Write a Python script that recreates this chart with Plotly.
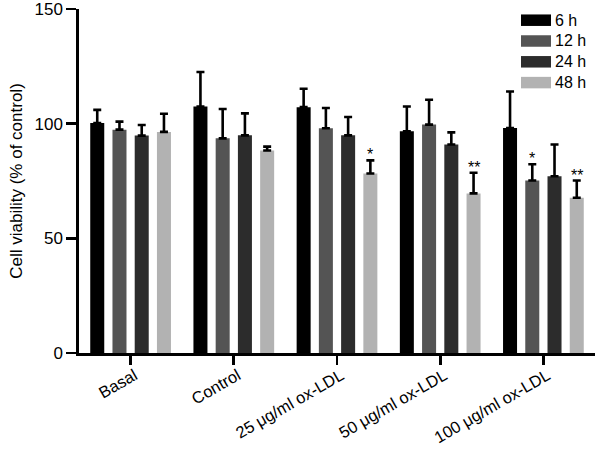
import plotly.graph_objects as go

categories = ["Basal", "Control", "25 μg/ml ox-LDL", "50 μg/ml ox-LDL", "100 μg/ml ox-LDL"]
series_names = ["6 h", "12 h", "24 h", "48 h"]
colors = ["#000000", "#545454", "#2c2c2c", "#b2b2b2"]

v_6h = [100.3, 107.5, 107.2, 96.7, 98.1]
v_12h = [97.4, 93.6, 98.0, 99.6, 75.2]
v_24h = [94.8, 94.9, 94.9, 90.9, 77.1]
v_48h = [96.4, 88.3, 78.3, 69.6, 67.7]

e_6h = [5.7, 15.0, 8.0, 10.8, 15.9]
e_12h = [3.5, 12.8, 8.8, 10.8, 7.1]
e_24h = [4.6, 9.6, 8.0, 5.3, 13.8]
e_48h = [7.9, 1.7, 5.7, 9.0, 7.5]

# significance marks: (category index, series index, label)
sig_marks = [(2, 3, "*"), (3, 3, "**"), (4, 1, "*"), (4, 3, "**")]

values = [v_6h, v_12h, v_24h, v_48h]
errors = [e_6h, e_12h, e_24h, e_48h]

FONT = "Liberation Sans, Arial, Helvetica, sans-serif"
W, H = 602, 453
ML, MR, MT, MB = 79, 7, 9, 100
bargap = 0.138
bargroupgap = 0.37

fig = go.Figure()
xs = list(range(len(categories)))
for name, col, vals, errs in zip(series_names, colors, values, errors):
    fig.add_trace(go.Bar(
        x=xs, y=vals, name=name, marker=dict(color=col, line=dict(width=0)),
        error_y=dict(type="data", array=errs, arrayminus=[0] * len(errs), symmetric=False,
                     color="#000000", thickness=2.6, width=4),
        showlegend=False, hoverinfo="skip",
    ))

# significance annotations
n = len(series_names)
slot = (1 - bargap) / n
for ci, si, lab in sig_marks:
    xpos = ci + (si - (n - 1) / 2) * slot
    fig.add_annotation(x=xpos, y=values[si][ci] + errors[si][ci], text=lab, showarrow=False,
                       xref="x", yref="y", yanchor="bottom", yshift=-5,
                       font=dict(family=FONT, size=16, color="#000000"))

# manual legend
pw = W - ML - MR
ph = H - MT - MB
def px2x(px):
    return (px - ML) / pw
def py2y(py):
    return 1 - (py - MT) / ph
leg_x0, leg_w, leg_h, leg_top, leg_step = 521, 30, 11.5, 20.2, 20.8
for i, (name, col) in enumerate(zip(series_names, colors)):
    cy = leg_top + i * leg_step
    fig.add_shape(type="rect", xref="paper", yref="paper",
                  x0=px2x(leg_x0), x1=px2x(leg_x0 + leg_w),
                  y0=py2y(cy - leg_h / 2), y1=py2y(cy + leg_h / 2),
                  fillcolor=col, line=dict(width=0))
    fig.add_annotation(x=px2x(leg_x0 + leg_w + 2), y=py2y(cy), xref="paper", yref="paper",
                       text=name, showarrow=False, xanchor="left", yanchor="middle",
                       font=dict(family=FONT, size=16, color="#000000"))

fig.update_layout(
    width=W, height=H,
    margin=dict(l=ML, r=MR, t=MT, b=MB, autoexpand=False),
    paper_bgcolor="white", plot_bgcolor="white",
    barmode="group", bargap=bargap, bargroupgap=bargroupgap,
    font=dict(family=FONT, size=17, color="#000000"),
    showlegend=False, hovermode=False,
)
fig.update_xaxes(
    range=[-0.5, 4.5], tickvals=xs, ticktext=categories, tickangle=-30,
    showline=True, linecolor="#000000", linewidth=2.7,
    ticks="outside", ticklen=9, tickwidth=2.7, tickcolor="#000000",
    showgrid=False, zeroline=False, tickfont=dict(size=16.5), ticklabeloverflow="allow",
    ticklabelstandoff=-5, ticklabelshift=4,
    automargin=False,
)
fig.update_yaxes(
    range=[0, 150], tickvals=[0, 50, 100, 150],
    showline=True, linecolor="#000000", linewidth=2.7,
    ticks="outside", ticklen=10, tickwidth=2.7, tickcolor="#000000",
    showgrid=False, zeroline=False, tickfont=dict(size=17), ticklabeloverflow="allow",
    title=dict(text="Cell viability (% of control)", font=dict(size=17), standoff=8),
    automargin=False,
)

fig.write_html("out.html", config={"displayModeBar": False, "staticPlot": True},
               post_script="document.body.style.margin='0';")
